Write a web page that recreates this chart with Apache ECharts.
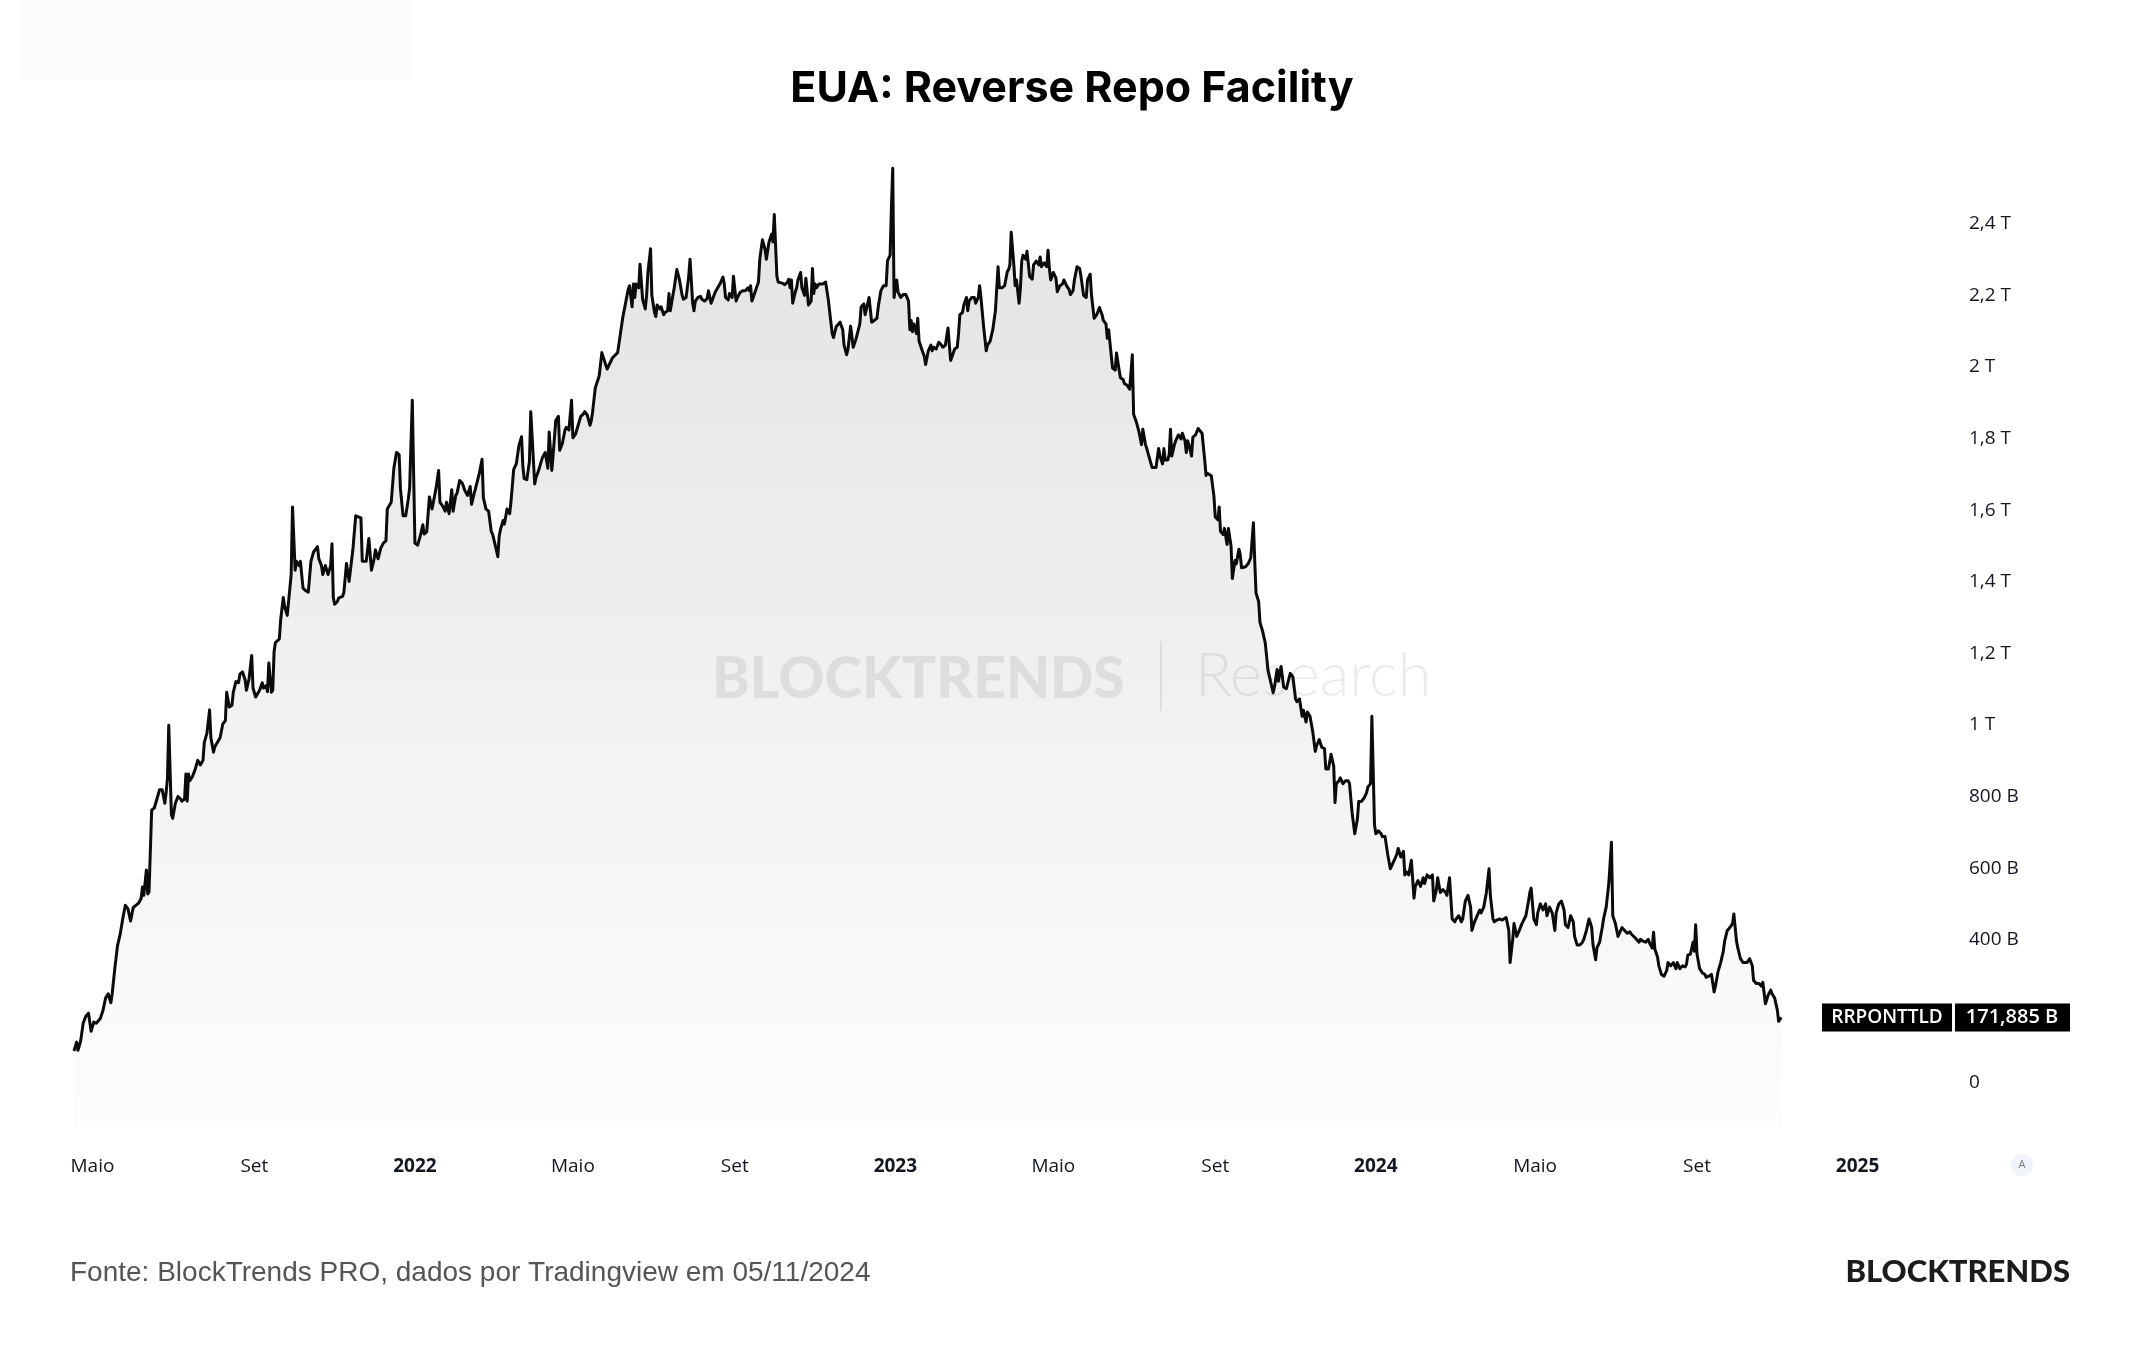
<!DOCTYPE html>
<html>
<head>
<meta charset="utf-8">
<title>EUA: Reverse Repo Facility</title>
<script src="https://cdn.jsdelivr.net/npm/echarts@6/dist/echarts.min.js"></script>
<style>
  html, body { margin: 0; padding: 0; background: #fff; }
  #chart { width: 2144px; height: 1350px; }
</style>
</head>
<body>
<div id="chart"></div>
<script>
// datas: [dias desde 01/01/2022, saldo RRP em bilhões de USD]
const DAY0 = Date.UTC(2022, 0, 1)
const DAY = 86400000

const rrp2021 = [
  [-259, 78], [-257, 103], [-256, 80], [-254, 105], [-252, 156], [-250, 175], [-248, 184], [-246, 133], [-244, 159], [-242, 156],
  [-239, 169], [-237, 191], [-235, 226], [-233, 238], [-231, 213], [-230, 238], [-228, 308], [-226, 371], [-224, 403], [-222, 447],
  [-220, 485], [-218, 475], [-216, 441], [-214, 479], [-212, 485], [-210, 491], [-208, 504], [-207, 536], [-206, 513], [-204, 584],
  [-203, 517], [-202, 523], [-200, 751], [-198, 757], [-196, 782], [-194, 808], [-192, 808], [-190, 770], [-189, 801], [-188, 839],
  [-187, 988], [-185, 738], [-184, 728], [-182, 770], [-180, 789], [-178, 782], [-177, 776], [-175, 782], [-174, 852], [-173, 776],
  [-172, 852], [-171, 833], [-169, 845], [-167, 864], [-165, 890], [-163, 877], [-161, 890], [-160, 940], [-158, 966], [-156, 1031],
  [-155, 953], [-153, 913], [-152, 928], [-149, 947], [-148, 953], [-146, 991], [-144, 1001], [-143, 1080], [-141, 1039], [-139, 1044],
  [-138, 1080], [-136, 1110], [-134, 1107], [-133, 1130], [-131, 1137], [-129, 1115], [-128, 1086], [-126, 1118], [-124, 1183], [-123, 1092],
  [-121, 1067], [-120, 1073], [-118, 1086], [-116, 1107], [-115, 1092], [-113, 1099], [-112, 1082], [-111, 1162], [-109, 1080], [-108, 1086],
  [-107, 1193], [-106, 1219], [-103, 1229], [-102, 1282], [-100, 1345], [-99, 1320], [-97, 1295], [-95, 1371], [-94, 1409], [-93, 1598],
  [-91, 1421], [-90, 1446], [-88, 1434], [-87, 1446], [-85, 1371], [-83, 1364], [-81, 1360], [-79, 1446], [-77, 1472], [-76, 1474],
  [-74, 1487], [-73, 1453], [-71, 1434], [-70, 1409], [-68, 1434], [-66, 1409], [-64, 1434], [-63, 1495], [-62, 1345], [-61, 1326],
  [-59, 1333], [-58, 1343], [-55, 1348], [-54, 1358], [-52, 1440], [-50, 1390], [-49, 1421], [-47, 1484], [-45, 1573], [-43, 1570],
  [-41, 1567], [-40, 1446], [-37, 1446], [-36, 1449], [-35, 1510], [-33, 1421], [-31, 1453], [-30, 1478], [-28, 1453], [-26, 1482],
  [-24, 1497], [-22, 1503], [-21, 1592], [-20, 1592], [-18, 1611], [-16, 1706], [-14, 1750], [-12, 1744], [-11, 1649], [-9, 1573],
  [-7, 1573], [-5, 1621], [-4, 1651], [-2, 1896]
]

const rrp2022 = [
  [0, 1497], [2, 1491], [4, 1516], [6, 1548], [7, 1522], [9, 1529], [11, 1626], [13, 1592], [14, 1592], [16, 1649],
  [18, 1700], [19, 1611], [21, 1601], [23, 1586], [24, 1611], [26, 1579], [28, 1646], [29, 1586], [31, 1630], [32, 1636],
  [34, 1672], [36, 1664], [37, 1662], [38, 1643], [40, 1630], [42, 1655], [43, 1605], [45, 1636], [46, 1649], [49, 1693],
  [51, 1731], [52, 1624], [54, 1592], [56, 1586], [58, 1529], [59, 1522], [61, 1491], [63, 1459], [64, 1516], [65, 1535],
  [67, 1560], [68, 1550], [70, 1592], [72, 1579], [73, 1613], [75, 1702], [77, 1718], [79, 1769], [81, 1794], [82, 1712],
  [83, 1677], [85, 1674], [87, 1725], [88, 1864], [91, 1662], [92, 1680], [94, 1700], [96, 1725], [97, 1737], [99, 1750],
  [101, 1706], [102, 1807], [104, 1700], [105, 1744], [107, 1839], [109, 1851], [110, 1756], [112, 1775], [114, 1813], [115, 1820],
  [117, 1813], [119, 1896], [120, 1791], [122, 1801], [124, 1826], [126, 1851], [128, 1858], [129, 1864], [131, 1854], [133, 1826],
  [134, 1839], [135, 1864], [137, 1930], [140, 1964], [142, 2029], [146, 1983], [150, 2014], [154, 2029], [158, 2129], [162, 2205],
  [163, 2216], [165, 2157], [166, 2221], [167, 2183], [168, 2221], [170, 2210], [171, 2276], [173, 2178], [175, 2151], [176, 2189],
  [177, 2253], [179, 2319], [180, 2189], [182, 2141], [183, 2130], [184, 2162], [186, 2151], [187, 2157], [189, 2135], [190, 2141],
  [192, 2146], [193, 2194], [194, 2146], [196, 2189], [197, 2210], [199, 2261], [201, 2232], [203, 2189], [204, 2178], [206, 2183],
  [208, 2242], [209, 2290], [211, 2167], [212, 2146], [213, 2173], [215, 2183], [217, 2186], [218, 2178], [220, 2173], [222, 2180],
  [223, 2202], [225, 2167], [226, 2162], [228, 2197], [230, 2210], [232, 2223], [234, 2240], [235, 2221], [236, 2183], [238, 2176],
  [239, 2194], [241, 2183], [242, 2242], [244, 2173], [245, 2183], [247, 2197], [249, 2202], [251, 2202], [253, 2210], [254, 2202],
  [255, 2216], [256, 2173], [257, 2183], [259, 2205], [261, 2226], [262, 2290], [264, 2344], [266, 2317], [267, 2290], [269, 2338],
  [271, 2360], [272, 2338], [273, 2415], [275, 2242], [276, 2226], [279, 2223], [281, 2219], [283, 2226], [284, 2234], [285, 2210],
  [286, 2232], [287, 2167], [289, 2199], [290, 2210], [291, 2232], [293, 2253], [294, 2210], [296, 2189], [297, 2237], [299, 2162],
  [301, 2173], [302, 2264], [303, 2194], [304, 2221], [305, 2210], [307, 2221], [308, 2226], [310, 2221], [311, 2226], [312, 2226],
  [314, 2178], [315, 2146], [317, 2082], [318, 2071], [320, 2101], [321, 2105], [323, 2114], [325, 2093], [326, 2050], [328, 2023],
  [329, 2039], [330, 2039], [331, 2103], [333, 2044], [334, 2039], [335, 2066], [338, 2109], [339, 2157], [341, 2165], [342, 2135],
  [344, 2167], [345, 2183], [346, 2183], [347, 2114], [349, 2119], [351, 2125], [352, 2157], [354, 2202], [356, 2216], [358, 2216],
  [359, 2285], [361, 2301], [362, 2435], [363, 2544], [364, 2183]
]

const rrp2023 = [
  [366, 2232], [367, 2199], [369, 2183], [371, 2191], [373, 2191], [375, 2173], [376, 2093], [377, 2119], [378, 2087], [379, 2109],
  [381, 2082], [382, 2125], [383, 2061], [385, 2039], [387, 2018], [388, 1996], [390, 2034], [392, 2050], [393, 2034], [394, 2044],
  [396, 2039], [398, 2058], [400, 2050], [401, 2044], [403, 2050], [405, 2098], [406, 2050], [407, 2007], [409, 2028], [410, 2039],
  [412, 2044], [413, 2082], [414, 2135], [416, 2141], [417, 2162], [419, 2183], [420, 2146], [421, 2173], [423, 2183], [425, 2183],
  [426, 2167], [428, 2183], [429, 2216], [430, 2183], [432, 2103], [434, 2034], [435, 2050], [437, 2061], [439, 2093], [440, 2093],
  [441, 2146], [443, 2269], [444, 2210], [446, 2210], [448, 2216], [450, 2255], [451, 2261], [452, 2274], [453, 2365], [455, 2274],
  [456, 2216], [457, 2232], [459, 2167], [460, 2210], [461, 2285], [462, 2301], [464, 2290], [465, 2312], [467, 2242], [469, 2234],
  [470, 2274], [471, 2269], [472, 2285], [474, 2274], [475, 2296], [476, 2269], [477, 2264], [478, 2280], [480, 2269], [481, 2315],
  [482, 2264], [483, 2232], [485, 2253], [487, 2237], [488, 2199], [490, 2216], [492, 2221], [493, 2232], [495, 2216], [497, 2205],
  [498, 2191], [500, 2202], [501, 2232], [503, 2269], [505, 2264], [506, 2242], [508, 2189], [510, 2183], [511, 2232], [513, 2248],
  [514, 2189], [515, 2157], [516, 2125], [518, 2135], [520, 2155], [522, 2135], [523, 2119], [525, 2109], [526, 2069], [527, 2093],
  [528, 2095], [530, 1986], [532, 1980], [533, 2028], [535, 1980], [536, 1959], [538, 1954], [539, 1943], [541, 1938], [543, 1927],
  [545, 2023], [546, 1857], [548, 1836], [550, 1809], [551, 1804], [552, 1772], [553, 1815], [555, 1772], [556, 1761], [558, 1734],
  [560, 1708], [561, 1713], [563, 1708], [565, 1761], [566, 1740], [568, 1718], [569, 1761], [570, 1729], [572, 1729], [573, 1745],
  [574, 1815], [575, 1740], [577, 1772], [578, 1783], [580, 1799], [582, 1788], [583, 1804], [585, 1783], [586, 1750], [587, 1783],
  [588, 1772], [590, 1740], [591, 1793], [593, 1799], [595, 1817], [596, 1815], [598, 1804], [600, 1729], [601, 1686], [602, 1692],
  [603, 1693], [605, 1685], [607, 1628], [608, 1570], [610, 1562], [611, 1598], [612, 1530], [614, 1521], [615, 1538], [617, 1493],
  [618, 1538], [620, 1489], [621, 1398], [623, 1448], [624, 1439], [626, 1480], [627, 1464], [628, 1428], [631, 1431], [633, 1439],
  [635, 1456], [637, 1554], [638, 1448], [639, 1357], [641, 1333], [642, 1275], [644, 1251], [645, 1234], [646, 1218], [648, 1144],
  [650, 1111], [652, 1079], [653, 1095], [655, 1144], [656, 1111], [658, 1152], [660, 1095], [662, 1090], [663, 1090], [665, 1133],
  [667, 1123], [669, 1062], [670, 1054], [672, 1062], [674, 1013], [675, 1030], [677, 997], [678, 1025], [680, 1013], [682, 972],
  [684, 915], [685, 931], [687, 948], [689, 926], [691, 923], [692, 866], [694, 866], [696, 907], [698, 874], [699, 772],
  [700, 825], [702, 833], [703, 841], [705, 825], [707, 833], [709, 833], [710, 825], [712, 743], [714, 685], [716, 726],
  [717, 775], [719, 775], [721, 784], [723, 800], [724, 816], [726, 825], [727, 1013], [729, 710]
]

const rrp2024 = [
  [730, 685], [732, 693], [734, 685], [735, 677], [737, 677], [739, 628], [741, 587], [742, 587], [744, 611], [746, 628],
  [747, 644], [749, 620], [751, 636], [752, 570], [753, 579], [755, 570], [757, 611], [759, 505], [760, 538], [762, 554],
  [764, 538], [766, 562], [767, 546], [769, 570], [771, 562], [773, 570], [774, 497], [776, 529], [777, 562], [779, 521],
  [781, 529], [783, 521], [784, 513], [786, 562], [788, 447], [790, 439], [791, 447], [793, 456], [795, 439], [796, 447],
  [798, 497], [800, 513], [802, 480], [803, 415], [805, 439], [807, 456], [809, 472], [810, 464], [812, 480], [814, 521],
  [816, 587], [817, 513], [819, 447], [820, 439], [822, 444], [824, 447], [826, 444], [827, 447], [829, 451], [831, 415],
  [832, 325], [834, 390], [835, 434], [837, 398], [839, 415], [841, 434], [842, 439], [844, 456], [846, 497], [847, 521],
  [848, 533], [850, 447], [852, 431], [853, 464], [855, 489], [857, 472], [859, 489], [860, 456], [862, 480], [864, 464],
  [866, 415], [867, 464], [869, 489], [871, 497], [873, 472], [874, 431], [876, 423], [878, 456], [880, 439], [881, 398],
  [883, 374], [885, 374], [887, 382], [888, 390], [890, 415], [892, 447], [894, 423], [895, 374], [897, 333], [898, 366],
  [900, 382], [902, 423], [903, 447], [905, 480], [907, 546], [909, 661], [910, 456], [912, 434], [914, 398], [916, 415],
  [917, 423], [919, 415], [921, 407], [923, 411], [924, 405], [926, 398], [928, 390], [930, 382], [931, 390], [933, 385],
  [935, 382], [937, 390], [938, 379], [940, 366], [941, 410], [942, 362], [944, 341], [945, 316], [947, 292], [949, 287],
  [951, 303], [952, 325], [954, 316], [956, 325], [958, 308], [959, 325], [961, 308], [963, 316], [965, 313], [966, 320],
  [967, 346], [969, 349], [971, 382], [972, 357], [973, 431], [974, 349], [976, 308], [978, 297], [980, 292], [981, 284],
  [983, 287], [985, 292], [987, 243], [988, 259], [990, 300], [992, 325], [994, 357], [995, 385], [997, 415], [999, 423],
  [1001, 434], [1002, 461], [1004, 385], [1005, 366], [1007, 336], [1009, 325], [1010, 330], [1012, 325], [1014, 336], [1016, 316],
  [1017, 275], [1019, 267], [1021, 267], [1023, 259], [1024, 270], [1026, 210], [1028, 234], [1030, 248], [1031, 238], [1033, 226],
  [1035, 193], [1036, 161], [1038, 171.885]
]

// rótulos dos eixos
const xTickDates = ['2021-05-01', '2021-09-01', '2022-01-01', '2022-05-01', '2022-09-01', '2023-01-01',
  '2023-05-01', '2023-09-01', '2024-01-01', '2024-05-01', '2024-09-01', '2025-01-01']
const monthNames = { 4: 'Maio', 8: 'Set' }
const yTickValues = [0, 200, 400, 600, 800, 1000, 1200, 1400, 1600, 1800, 2000, 2200, 2400]

const seriesName = 'RRPONTTLD'
const lastValueText = '171,885 B'

const X_MIN = DAY0 - 259 * DAY
const X_MAX = DAY0 + 1170 * DAY
const Y_MIN = -137
const Y_MAX = 2595

const rrpData = [...rrp2021, ...rrp2022, ...rrp2023, ...rrp2024].map(el => [DAY0 + el[0] * DAY, el[1]])

function fmtY(v) {
  let s
  if (v === 0) s = '0'
  else if (v >= 1000) s = String(v / 1000).replace('.', ',') + ' T'
  else s = v + ' B'
  return '{v|' + s + '}'
}

function fmtX(v) {
  const d = new Date(v)
  const m = d.getUTCMonth()
  if (m === 0) return '{yr|' + d.getUTCFullYear() + '}'
  return monthNames[m] || ''
}

const chart = echarts.init(document.getElementById('chart'))

chart.setOption({
  backgroundColor: '#fff',
  animation: false,
  title: {
    text: 'EUA: Reverse Repo Facility',
    left: 'center',
    top: 63,
    textStyle: { fontFamily: 'Inter', fontWeight: 700, fontSize: 43, color: '#000' }
  },
  grid: { left: 74, right: 189, top: 150, bottom: 222 },
  xAxis: {
    // eixo linear em milissegundos (datas UTC)
    type: 'value',
    min: X_MIN,
    max: X_MAX,
    axisLine: { show: false },
    axisTick: { show: false },
    splitLine: { show: false },
    axisLabel: {
      customValues: xTickDates.map(s => Date.parse(s)),
      formatter: fmtX,
      margin: 29,
      fontFamily: 'Open Sans',
      fontSize: 19,
      color: '#131722',
      rich: { yr: { fontFamily: 'Open Sans', fontWeight: 700, fontSize: 19, color: '#131722' } }
    }
  },
  yAxis: {
    type: 'value',
    position: 'right',
    min: Y_MIN,
    max: Y_MAX,
    splitLine: { show: false },
    axisTick: { show: false },
    axisLine: { show: false },
    axisLabel: {
      customValues: yTickValues,
      formatter: fmtY,
      margin: 14,
      rich: { v: { fontFamily: 'Open Sans', fontSize: 19, color: '#131722', padding: [8, 0, 0, 0] } }
    }
  },
  series: [
    {
      name: seriesName,
      type: 'line',
      data: rrpData,
      showSymbol: false,
      symbol: 'none',
      z: 1,
      lineStyle: { width: 0 },
      areaStyle: {
        origin: 'start',
        color: new echarts.graphic.LinearGradient(0, 0, 0, 1, [
          { offset: 0, color: '#d6d6d6' },
          { offset: 1, color: '#fcfcfc' }
        ])
      }
    },
    {
      name: seriesName,
      type: 'line',
      data: rrpData,
      showSymbol: false,
      symbol: 'none',
      z: 5,
      lineStyle: { color: '#0b0b0b', width: 3, join: 'round' }
    }
  ],
  graphic: [
    { id: 'corner', type: 'rect', z: 0, shape: { x: 18, y: 0, width: 392, height: 80 }, style: { fill: '#fcfcfa' } },
    {
      id: 'wm1', type: 'text', z: 3, left: 712, top: 651,
      style: { text: 'BLOCKTRENDS', font: '900 57px Lato', fill: 'rgba(0,0,0,0.08)' }
    },
    { id: 'wmBar', type: 'rect', z: 3, shape: { x: 1160, y: 641, width: 2, height: 70 }, style: { fill: 'rgba(0,0,0,0.08)' } },
    {
      id: 'wm2', type: 'text', z: 3, left: 1195, top: 646,
      style: { text: 'Research', font: '300 61px Lato', fill: 'rgba(0,0,0,0.08)' }
    },
    {
      id: 'fonte', type: 'text', left: 70, top: 1259,
      style: { text: 'Fonte: BlockTrends PRO, dados por Tradingview em 05/11/2024', font: '28px "Liberation Sans"', fill: '#555' }
    },
    {
      id: 'logo', type: 'text', right: 74, top: 1256,
      style: { text: 'BLOCKTRENDS', font: '900 31px Lato', fill: '#1c1c1e' }
    },
    { id: 'autoBtn', type: 'circle', shape: { cx: 2022, cy: 1165, r: 11 }, style: { fill: '#f0f3fa' } },
    {
      id: 'autoTxt', type: 'text', x: 2022, y: 1165,
      style: { text: 'A', font: '11px "Open Sans"', fill: '#787b86', align: 'center', verticalAlign: 'middle' }
    }
  ]
})

// etiqueta do último valor, posicionada pela escala do gráfico
const lastPoint = rrpData[rrpData.length - 1]
const yLast = chart.convertToPixel({ yAxisIndex: 0 }, lastPoint[1])
const xEdge = chart.convertToPixel({ xAxisIndex: 0 }, X_MAX)
chart.setOption({
  graphic: [
    { id: 'nameBox', type: 'rect', z: 10, shape: { x: xEdge - 133, y: yLast - 14, width: 130, height: 28 }, style: { fill: '#000' } },
    {
      id: 'nameTxt', type: 'text', z: 11, x: xEdge - 68, y: yLast,
      style: { text: seriesName, font: '600 19px "Open Sans"', fill: '#fff', align: 'center', verticalAlign: 'middle' }
    },
    { id: 'valBox', type: 'rect', z: 10, shape: { x: xEdge, y: yLast - 14, width: 115, height: 28 }, style: { fill: '#000' } },
    {
      id: 'valTxt', type: 'text', z: 11, x: xEdge + 57, y: yLast,
      style: { text: lastValueText, font: '600 20px "Open Sans"', fill: '#fff', align: 'center', verticalAlign: 'middle' }
    }
  ]
})
</script>
</body>
</html>
